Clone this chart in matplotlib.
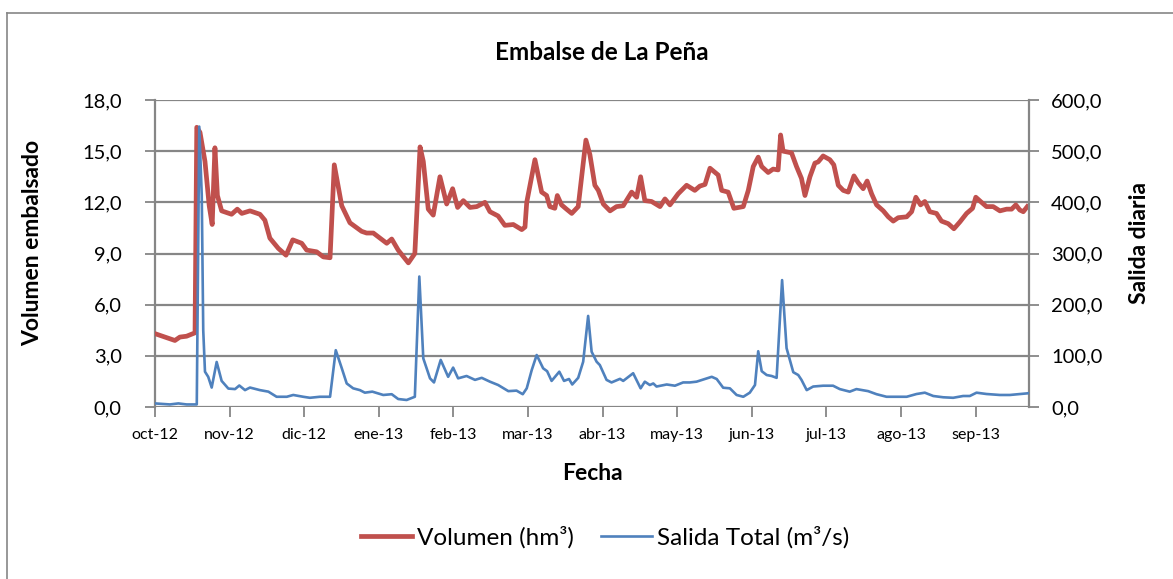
import matplotlib
matplotlib.use("Agg")
import matplotlib.pyplot as plt
from matplotlib.lines import Line2D

plt.rcParams['font.family'] = ['Lato', 'DejaVu Sans']

# -- datos (dia desde 1-oct-2012) --
meses = ['oct-12', 'nov-12', 'dic-12', 'ene-13', 'feb-13', 'mar-13',
         'abr-13', 'may-13', 'jun-13', 'jul-13', 'ago-13', 'sep-13']

dia_vol = [0, 8, 10, 12.7, 16.1, 16.8, 18.1, 20.1, 21.8, 23.0, 24.1, 25.1, 26.8,
           30.8, 33.1, 34.9, 38.2, 42.2, 44.2, 46.2, 49.6, 52.7, 55.4, 59.0, 61.0,
           65.0, 67.7, 70.4, 72.1, 75.1, 78.4, 83.1, 85.1, 87.8, 90.5, 93.2, 95.2,
           97.8, 101.9, 104.5, 106.6, 107.9, 109.9, 111.9, 114.6, 117.3, 119.7,
           121.7, 124.0, 126.7, 129.4, 132.7, 134.7, 138.0, 140.7, 144.1, 147.5,
           148.8, 149.5, 152.8, 155.5, 157.5, 158.8, 160.8, 161.8, 163.5, 165.5,
           167.6, 170.2, 173.3, 174.9, 176.9, 178.3, 180.3, 183.0, 185.6, 188.3,
           191.7, 193.7, 195.3, 197.0, 199.7, 203.1, 205.1, 207.1, 210.4, 213.8,
           217.1, 219.1, 221.2, 223.2, 226.5, 227.9, 230.5, 232.8, 236.6, 238.6,
           240.6, 242.6, 244.0, 246.6, 248.6, 250.6, 251.6, 252.6, 256.0, 258.0,
           260.0, 261.4, 263.4, 265.4, 266.7, 268.7, 271.4, 273.0, 274.8, 276.8,
           278.8, 281.1, 282.8, 284.8, 286.4, 288.2, 290.2, 292.9, 294.9, 296.9,
           298.9, 302.3, 304.3, 306.0, 307.9, 309.6, 311.6, 314.3, 316.3, 319.0,
           321.3, 323.7, 326.4, 328.8, 330.1, 332.4, 334.4, 337.1, 339.8, 342.5,
           344.5, 346.2, 347.8, 349.2, 350.8]
volumen = [4.3, 3.9, 4.1, 4.15, 4.35, 16.4, 16.1, 14.4, 11.8, 10.7, 15.2, 12.4, 11.5,
           11.3, 11.6, 11.35, 11.5, 11.3, 10.95, 9.9, 9.3, 8.9, 9.8, 9.6, 9.2,
           9.1, 8.8, 8.75, 14.2, 11.8, 10.8, 10.3, 10.2, 10.2, 9.9, 9.6, 9.85,
           9.2, 8.45, 9.0, 15.25, 14.4, 11.6, 11.25, 13.5, 11.9, 12.8,
           11.7, 12.1, 11.7, 11.75, 12.0, 11.45, 11.2, 10.65, 10.7, 10.4,
           10.55, 12.0, 14.5, 12.6, 12.4, 11.75, 11.65, 12.4, 11.85, 11.6,
           11.35, 11.75, 15.65, 14.8, 13.0, 12.7, 11.9, 11.5, 11.75, 11.8,
           12.6, 12.3, 13.5, 12.1, 12.05, 11.75, 12.2, 11.85, 12.5, 13.0,
           12.7, 12.95, 13.05, 14.0, 13.6, 12.7, 12.6, 11.65, 11.75, 12.7,
           14.1, 14.65, 14.1, 13.75, 13.95, 13.9, 15.95, 15.0, 14.9, 14.1,
           13.4, 12.4, 13.5, 14.3, 14.37, 14.72, 14.5, 14.2, 13.0, 12.7,
           12.6, 13.55, 13.15, 12.8, 13.25, 12.5, 11.85, 11.5, 11.15, 10.9,
           11.1, 11.15, 11.45, 12.3, 11.85, 12.05, 11.45, 11.35, 10.9, 10.75,
           10.45, 10.85, 11.35, 11.65, 12.3, 12.0, 11.75, 11.75, 11.5, 11.6,
           11.6, 11.85, 11.55, 11.45, 11.75]

dia_sal = [0, 6.0, 9.4, 12.7, 16.8, 17.8, 18.8, 19.4, 20.1, 21.4, 22.8, 24.8, 26.8,
           29.5, 32.2, 33.9, 36.2, 38.2, 42.2, 45.6, 48.9, 53.0, 55.6, 59.6, 62.3,
           66.3, 70.4, 72.7, 75.1, 77.1, 79.7, 82.4, 84.4, 87.4, 91.8, 95.2, 97.8,
           101.2, 104.5, 106.3, 107.9, 110.6, 112.2, 114.9, 117.9, 119.9, 121.9,
           125.3, 128.7, 131.4, 134.7, 138.0, 142.1, 145.4, 147.9, 149.5, 151.5,
           153.5, 156.1, 157.7, 159.5, 162.6, 164.5, 166.5, 167.8, 170.2, 172.2,
           174.2, 175.6, 177.6, 178.9, 181.6, 183.6, 187.0, 188.3, 192.3, 195.3,
           197.0, 199.0, 200.4, 201.7, 205.8, 209.1, 212.4, 215.1, 217.8, 221.2,
           223.9, 225.9, 228.5, 231.2, 233.9, 236.6, 239.2, 241.3, 242.6, 244.0,
           246.0, 248.0, 250.0, 252.2, 254.0, 256.7, 258.7, 260.0, 262.1, 264.7,
           268.7, 272.7, 275.4, 279.4, 282.1, 286.8, 290.2, 294.2, 298.2, 302.3,
           306.3, 309.6, 313.0, 317.0, 321.0, 325.0, 327.7, 330.4, 334.4, 339.8,
           343.8, 347.8, 351.1]
salida = [7, 5, 7, 5, 5, 548, 414, 150, 69, 59, 38, 88, 51,
          36, 35, 42, 33, 38, 33, 30, 20, 20, 23.5, 20, 18,
          20, 20, 111, 76, 46, 36.5, 33, 28, 30, 23.5, 25, 15.6,
          13.7, 20, 255, 95, 56, 48, 92, 59, 77, 56,
          60.6, 53, 57, 49.5, 43, 31, 32, 25, 36.5, 72,
          101.6, 75.6, 70, 51, 69, 51, 54.7, 44, 57, 88.5,
          178, 108, 88.5, 82, 53, 48, 55, 51, 66, 36.5,
          49.5, 43, 46, 40, 44, 41.6, 48, 48, 49.5, 54.7,
          59, 54.7, 37.7, 36.5, 23.5, 20, 28, 43, 109, 70,
          62.5, 60.6, 57, 248, 115, 68, 62.5, 53, 33, 40,
          41.6, 41.6, 35, 30, 35, 31, 25, 20, 20, 20,
          25.4, 28, 21.5, 19, 18, 21.5, 21.5, 28, 25.4, 23.5,
          23.5, 25.4, 26.8]

rojo = '#C0504D'
azul = '#4F81BD'
gris = '#868686'

W, H = 1173, 579
fig = plt.figure(figsize=(W / 100, H / 100), dpi=100)
ax = fig.add_axes([155 / W, 1 - 407 / H, 874 / W, 307 / H])
ax2 = ax.twinx()

ax.plot(dia_vol, volumen, color=rojo, lw=3.4, solid_joinstyle='round', zorder=3)
ax2.plot(dia_sal, salida, color=azul, lw=1.9, solid_joinstyle='round', zorder=3)

ax.set_xlim(0, 351.5)
ax.set_ylim(0, 18)
ax2.set_ylim(0, 600)
ax.set_yticks(range(0, 19, 3))
ax.set_yticklabels([f'{v:.1f}'.replace('.', ',') for v in range(0, 19, 3)])
ax2.set_yticks(range(0, 601, 100))
ax2.set_yticklabels([f'{v:.1f}'.replace('.', ',') for v in range(0, 601, 100)])
ax.set_xticks([30 * i for i in range(len(meses))])
ax.set_xticklabels(meses)

ax.grid(axis='y', color=gris, lw=1.6)
ax.set_axisbelow(True)
for a in (ax, ax2):
    for s in a.spines.values():
        s.set_visible(False)
    a.tick_params(colors=gris, width=1.3, length=7, labelsize=14.5, labelcolor='black')
ax.spines['left'].set_visible(True)
ax.spines['left'].set_color(gris)
ax.spines['left'].set_linewidth(1.6)
ax2.spines['right'].set_visible(True)
ax2.spines['right'].set_color(gris)
ax2.spines['right'].set_linewidth(1.6)
ax.tick_params(axis='x', labelsize=11.5, pad=8)
ax.tick_params(axis='y', pad=17)
ax2.tick_params(axis='y', pad=9)

# titulos
fig.text(602 / W, 1 - 52 / H, 'Embalse de La Peña', fontsize=17.5,
         fontweight='bold', ha='center', va='center')
fig.text(592 / W, 1 - 473 / H, 'Fecha', fontsize=16.5,
         fontweight='bold', ha='center', va='center')
fig.text(33 / W, 1 - 243 / H, 'Volumen embalsado', fontsize=16.5,
         fontweight='bold', ha='center', va='center', rotation=90)
fig.text(1140 / W, 1 - 243 / H, 'Salida diaria', fontsize=16.5,
         fontweight='bold', ha='center', va='center', rotation=90)

# marco del area del grafico (solo se ven izquierda y arriba)
fig.add_artist(Line2D([7 / W, 7 / W], [0, 1 - 13 / H], color=gris, lw=1.2))
fig.add_artist(Line2D([7 / W, 1], [1 - 13 / H, 1 - 13 / H], color=gris, lw=1.2))

handles = [Line2D([], [], color=rojo, lw=3.4), Line2D([], [], color=azul, lw=1.9)]
fig.legend(handles, ['Volumen (hm³)', 'Salida Total (m³/s)'], loc='center',
           bbox_to_anchor=(605 / W, 1 - 537 / H), ncol=2, frameon=False,
           fontsize=17.5, handlelength=2.1, handletextpad=0.2, columnspacing=1.1)

fig.savefig('out.png', dpi=100)
